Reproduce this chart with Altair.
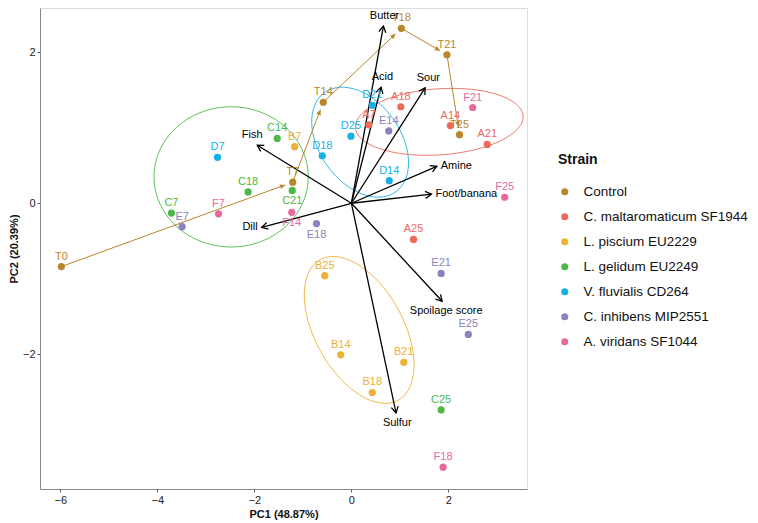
import math
import pandas as pd
import altair as alt

# ---------------- data ----------------
strains = ["Control", "C. maltaromaticum SF1944", "L. piscium EU2229",
           "L. gelidum EU2249", "V. fluvialis CD264", "C. inhibens  MIP2551",
           "A. viridans  SF1044"]
prefixes = ["T", "A", "B", "C", "D", "E", "F"]
colors = ["#B8862B", "#EE6A5D", "#EEB035", "#4DB848", "#17B0E6", "#8A83C0", "#E9689C"]

samples = ["T0", "T7", "T14", "T18", "T21", "T25",
           "A7", "A14", "A18", "A21", "A25",
           "B7", "B14", "B18", "B21", "B25",
           "C7", "C14", "C18", "C21", "C25",
           "D7", "D14", "D18", "D21", "D25",
           "E7", "E14", "E18", "E21", "E25",
           "F7", "F14", "F18", "F21", "F25"]
pc1 = [-5.98, -1.21, -0.58, 1.03, 1.97, 2.23,
       0.36, 2.04, 1.02, 2.80, 1.28,
       -1.17, -0.22, 0.43, 1.08, -0.55,
       -3.71, -1.53, -2.13, -1.22, 1.85,
       -2.76, 0.78, -0.60, 0.43, -0.01,
       -3.49, 0.77, -0.72, 1.85, 2.41,
       -2.74, -1.23, 1.89, 2.50, 3.16]
pc2 = [-0.84, 0.28, 1.34, 2.32, 1.97, 0.91,
       1.04, 1.03, 1.28, 0.78, -0.48,
       0.75, -2.01, -2.51, -2.11, -0.96,
       -0.13, 0.86, 0.15, 0.17, -2.74,
       0.61, 0.30, 0.63, 1.30, 0.89,
       -0.31, 0.96, -0.27, -0.93, -1.74,
       -0.14, -0.12, -3.50, 1.27, 0.08]
labels_below = ["C21", "F14", "E18"]

control_path = ["T0", "T7", "T14", "T18", "T21", "T25"]

attributes = ["Butter", "Acid", "Sour", "Fish", "Amine", "Foot/banana",
              "Dill", "Spoilage score", "Sulfur"]
load1 = [0.66, 0.61, 1.52, -1.94, 1.76, 1.65, -1.85, 1.87, 0.92]
load2 = [2.35, 1.54, 1.53, 0.77, 0.49, 0.12, -0.32, -1.30, -2.78]

# ellipses: strain, centre, two semi-axis vectors (PC units)
ell_strain = ["C. maltaromaticum SF1944", "L. piscium EU2229",
              "L. gelidum EU2249", "V. fluvialis CD264"]
ell_center = [(1.81, 1.08), (0.16, -1.68), (-2.48, 0.35), (0.18, 0.81)]
ell_u = [(1.728, 0.078), (0.81, -0.93), (1.59, 0.0), (0.73, -0.66)]
ell_v = [(0.047, -0.437), (0.79, 0.29), (0.0, 0.93), (0.68, 0.31)]

# ---------------- layout ----------------
W, H = 487, 481
XDOM = [-6.42, 3.62]
YDOM = [-3.79, 2.59]
PX = W / (XDOM[1] - XDOM[0])
PY = H / (YDOM[1] - YDOM[0])
FONT = "Liberation Sans"

strain_of = dict(zip(prefixes, strains))
pts = pd.DataFrame({"name": samples, "x": pc1, "y": pc2})
pts["Strain"] = [strain_of[n[0]] for n in samples]
pts["below"] = pts["name"].isin(labels_below)

# control trajectory segments
pos = dict(zip(samples, zip(pc1, pc2)))
seg = []
for a, b in zip(control_path[:-1], control_path[1:]):
    x0, y0 = pos[a]
    x1, y1 = pos[b]
    dxp, dyp = (x1 - x0) * PX, (y1 - y0) * PY
    L = math.hypot(dxp, dyp)
    f = 1 - 8 / L
    ang = math.degrees(math.atan2(dxp, dyp)) % 360
    seg.append({"x": x0, "y": y0, "x2": x0 + (x1 - x0) * f,
                "y2": y0 + (y1 - y0) * f, "ang": ang})
seg = pd.DataFrame(seg)

# loadings
ld = []
for nm, a, b in zip(attributes, load1, load2):
    dxp, dyp = a * PX, b * PY
    L = math.hypot(dxp, dyp)
    ux, uy = dxp / L, dyp / L
    ang = math.degrees(math.atan2(dxp, dyp)) % 360
    if abs(ux) > 0.9:
        anchor = "left" if ux > 0 else "right"
        lx = a + (4 if ux > 0 else -4) / PX
        ly = b
    else:
        anchor = "center"
        lx = a + ux * 6 / PX
        ly = b + (10 if uy > 0 else -10) / PY
    ld.append({"name": nm, "x": 0.0, "y": 0.0, "x2": a, "y2": b, "ang": ang,
               "lx": lx, "ly": ly, "anchor": anchor})
ld = pd.DataFrame(ld)

# ellipses
er = []
for s, c, u, v in zip(ell_strain, ell_center, ell_u, ell_v):
    for k in range(121):
        t = 2 * math.pi * k / 120
        er.append({"Strain": s, "k": k,
                   "x": c[0] + u[0] * math.cos(t) + v[0] * math.sin(t),
                   "y": c[1] + u[1] * math.cos(t) + v[1] * math.sin(t)})
er = pd.DataFrame(er)

# ---------------- encodings ----------------
xscale = alt.Scale(domain=XDOM, nice=False, zero=False)
yscale = alt.Scale(domain=YDOM, nice=False, zero=False)
xaxis = alt.Axis(values=[-6, -4, -2, 0, 2], grid=False, tickSize=3,
                 tickColor="#555", domainColor="#888", labelFontSize=11,
                 labelColor="#222", labelFont=FONT, titleFont=FONT,
                 titleFontSize=11, titleFontWeight="bold", titleColor="#111",
                 labelPadding=2, titlePadding=3)
yaxis = alt.Axis(values=[-2, 0, 2], grid=False, tickSize=3,
                 tickColor="#555", domainColor="#888", labelFontSize=11,
                 labelColor="#222", labelFont=FONT, titleFont=FONT,
                 titleFontSize=11, titleFontWeight="bold", titleColor="#111",
                 labelPadding=2, titlePadding=3)


def X(field="x"):
    return alt.X(f"{field}:Q", scale=xscale, axis=xaxis, title="PC1 (48.87%)")


def Y(field="y"):
    return alt.Y(f"{field}:Q", scale=yscale, axis=yaxis, title="PC2 (20.39%)")


cscale = alt.Scale(domain=strains, range=colors)

ellipses = alt.Chart(er).mark_line(strokeWidth=0.9).encode(
    x=X(), y=Y(), detail="Strain:N", order="k:Q",
    color=alt.Color("Strain:N", scale=cscale, legend=None))

ctrl_lines = alt.Chart(seg).mark_rule(color=colors[0], strokeWidth=1).encode(
    x=X(), y=Y(), x2="x2:Q", y2="y2:Q")
ctrl_heads = alt.Chart(seg).mark_point(
    shape="M0,0L-0.6,1.3L0.6,1.3Z", filled=True, color=colors[0],
    size=64, opacity=1).encode(
    x=X("x2"), y=Y("y2"), angle=alt.Angle("ang:Q", scale=None))

load_lines = alt.Chart(ld).mark_rule(color="black", strokeWidth=1.3).encode(
    x=X(), y=Y(), x2="x2:Q", y2="y2:Q")
load_heads = alt.Chart(ld).mark_point(
    shape="M-0.5,0.87L0,0L0.5,0.87", filled=False, stroke="black",
    strokeWidth=1.3, size=196, opacity=1).encode(
    x=X("x2"), y=Y("y2"), angle=alt.Angle("ang:Q", scale=None))

points = alt.Chart(pts).mark_circle(size=52, opacity=1).encode(
    x=X(), y=Y(),
    color=alt.Color("Strain:N", scale=cscale,
                    legend=alt.Legend(title="Strain", orient="none",
                                      legendX=518, legendY=145,
                                      titleFont=FONT, titleFontSize=14,
                                      titleFontWeight="bold", titleColor="#111",
                                      titlePadding=18,
                                      labelFont=FONT, labelFontSize=13.5,
                                      labelColor="#111", labelOffset=12,
                                      symbolType="circle", symbolSize=50,
                                      rowPadding=10, labelLimit=300)))

pt_labels_above = alt.Chart(pts).transform_filter("!datum.below").mark_text(
    dy=-10, fontSize=11, font=FONT).encode(
    x=X(), y=Y(), text="name:N",
    color=alt.Color("Strain:N", scale=cscale, legend=None))
pt_labels_below = alt.Chart(pts).transform_filter("datum.below").mark_text(
    dy=11, fontSize=11, font=FONT).encode(
    x=X(), y=Y(), text="name:N",
    color=alt.Color("Strain:N", scale=cscale, legend=None))

load_text = []
for anc in ["center", "left", "right"]:
    load_text.append(
        alt.Chart(ld).transform_filter(f"datum.anchor == '{anc}'").mark_text(
            align=anc, baseline="middle", fontSize=11, font=FONT, color="black"
        ).encode(x=X("lx"), y=Y("ly"), text="name:N"))

chart = alt.layer(
    ellipses, ctrl_lines, ctrl_heads, load_lines, load_heads, points,
    pt_labels_above, pt_labels_below, *load_text
).resolve_scale(color="independent").properties(
    width=W, height=H,
    autosize=alt.AutoSizeParams(type="none"),
    padding={"left": 32, "top": 0, "right": 223, "bottom": 34},
).configure_view(stroke="#888", strokeWidth=1).configure(background="white")

chart.save("out.html", embed_options={"renderer": "svg", "actions": False})
